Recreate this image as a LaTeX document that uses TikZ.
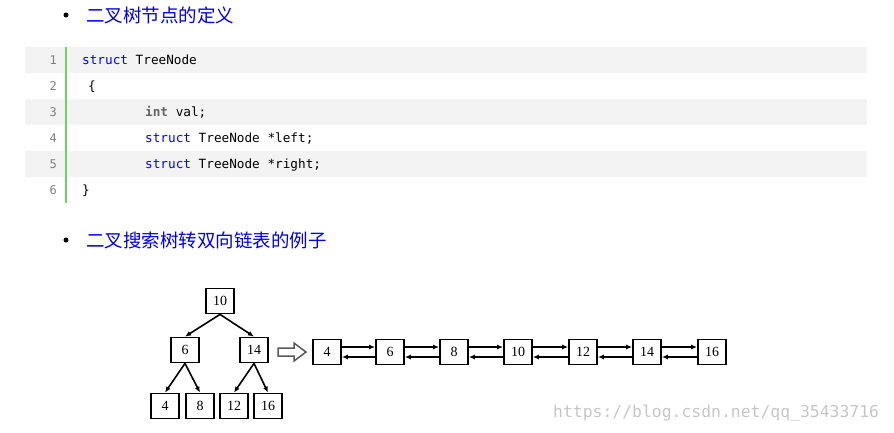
\documentclass[tikz,border=0pt]{standalone}
\usepackage{fontspec}
\setmainfont{Liberation Serif}
\setmonofont{DejaVu Sans Mono}
\newfontfamily\cjk{Noto Sans CJK SC}
\usetikzlibrary{positioning,arrows.meta}
\definecolor{linkblue}{RGB}{0,0,230}
\definecolor{kwblue}{RGB}{0,0,255}
\definecolor{bargray}{RGB}{243,243,243}
\definecolor{bargreen}{RGB}{108,210,96}
\begin{document}
\begin{tikzpicture}[x=1pt,y=-1pt,>=latex]
\tikzstyle{case}=[rectangle,draw,line width=1.8pt,minimum width=28pt,minimum height=25pt,inner sep=0pt,font=\fontsize{14}{14}\selectfont]
\tikzstyle{code}=[anchor=base west,inner sep=0pt,font=\fontsize{12.7}{12.7}\ttfamily]
\tikzstyle{num}=[anchor=base east,inner sep=0pt,text=gray,font=\fontsize{12}{12}\ttfamily]
\tikzstyle{title}=[anchor=west,inner sep=0pt,text=linkblue,font=\fontsize{18.5}{18.5}\cjk]
\tikzstyle{fl}=[-{Latex[length=6pt,width=5pt]},line width=1.6pt]
\useasboundingbox (0,0) rectangle (894,432);
% titres
\fill (66,15) circle (2.5);
\node[title] (t1) at (86,15) {二叉树节点的定义};
\fill (66,240) circle (2.5);
\node[title] (t2) at (86,240) {二叉搜索树转双向链表的例子};
% code
\foreach \y in {47,99,151} \fill[bargray] (25,\y) rectangle (867,\y+26);
\draw[bargreen,line width=2pt] (66,47) -- (66,203);
\foreach \n in {1,...,6} \node[num] at (57,51+26*\n-13) {\n};
\node[code] (l1) at (82,64) {\textcolor{kwblue}{struct} TreeNode};
\node[code] (l2) at (88,90) {\{};
\node[code] (l3) at (145,116) {\textcolor{gray!80!black}{\bfseries int} val;};
\node[code] (l4) at (145,142) {\textcolor{kwblue}{struct} TreeNode *left;};
\node[code] (l5) at (145,168) {\textcolor{kwblue}{struct} TreeNode *right;};
\node[code] (l6) at (82,194) {\}};
% arbre
\node[case] (a10) at (220,301) {10};
\node[case] (a6) at (185,350) {6};
\node[case] (a14) at (254,350) {14};
\node[case] (a4) at (165,406) {4};
\node[case] (a8) at (200,406) {8};
\node[case] (a12) at (234,406) {12};
\node[case] (a16) at (268,406) {16};
\draw[fl] (a10.south) -- (a6.north);
\draw[fl] (a10.south) -- (a14.north);
\draw[fl] (a6.south) -- (a4.north);
\draw[fl] (a6.south) -- (a8.north);
\draw[fl] (a14.south) -- (a12.north);
\draw[fl] (a14.south) -- (a16.north);
% fleche creuse
\draw[line width=1.5pt,gray!70!black] (278,348) -- (294,348) -- (294,343) -- (306,352) -- (294,361) -- (294,356) -- (278,356) -- cycle;
% liste
\node[case] (b4) at (327,352) {4};
\node[case] (b6) at (390,352) {6};
\node[case] (b8) at (454,352) {8};
\node[case] (b10) at (518,352) {10};
\node[case] (b12) at (583,352) {12};
\node[case] (b14) at (647,352) {14};
\node[case] (b16) at (712,352) {16};
\foreach \p/\q in {b4/b6,b6/b8,b8/b10,b10/b12,b12/b14,b14/b16} {
  \draw[fl] ([yshift=5pt]\p.east) -- ([yshift=5pt]\q.west);
  \draw[fl] ([yshift=-5pt]\q.west) -- ([yshift=-5pt]\p.east);
}
\node[anchor=base west,inner sep=0pt,text=gray!45,font=\fontsize{16.4}{16.4}\ttfamily] (wm) at (553,417) {https://blog.csdn.net/qq\_35433716};
\end{tikzpicture}
\end{document}
